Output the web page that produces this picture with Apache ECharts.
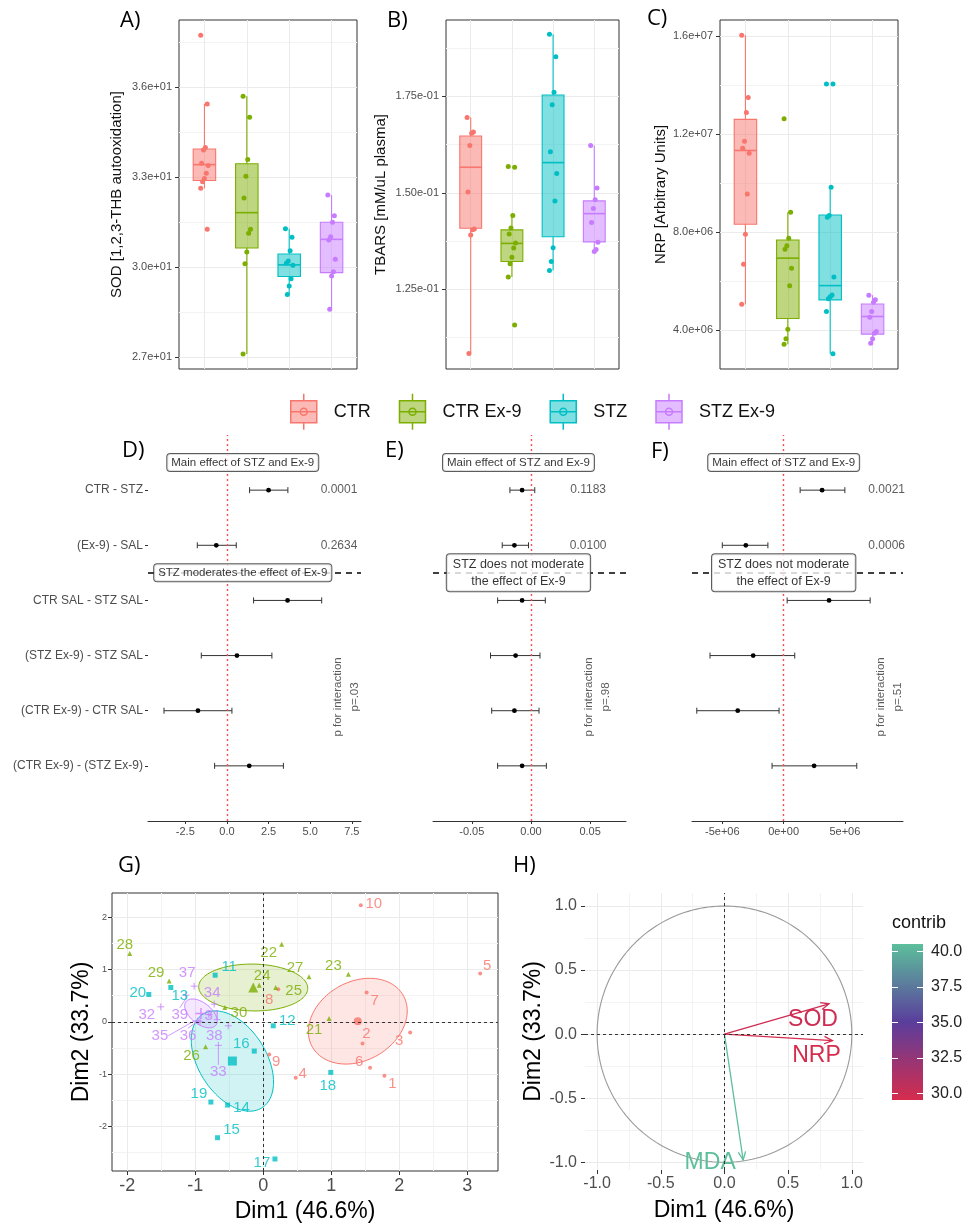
<!DOCTYPE html>
<html><head><meta charset="utf-8">
<script src="https://cdn.jsdelivr.net/npm/echarts@6/dist/echarts.min.js"></script>
<style>html,body{margin:0;padding:0;background:#fff}#c{width:966px;height:1223px}</style>
</head><body><div id="c"></div>
<script>
// ================= DATA =================
const groups = ['CTR', 'CTR Ex-9', 'STZ', 'STZ Ex-9'];

// A) SOD [1,2,3-THB autooxidation]
const sodCTR   = [37.72, 35.43, 33.98, 33.90, 33.46, 33.38, 33.12, 32.95, 32.84, 32.62, 31.26];
const sodCTREx = [35.69, 34.99, 33.58, 33.02, 32.30, 31.26, 31.12, 30.50, 30.11, 27.10];
const sodSTZ   = [31.27, 30.99, 30.54, 30.20, 30.12, 30.06, 29.61, 29.37, 29.08];
const sodSTZEx = [32.40, 31.71, 31.49, 31.01, 30.90, 30.26, 29.84, 29.70, 28.59];
const sodBox   = [[32.62, 32.88, 33.41, 33.93, 35.43], [27.10, 30.63, 31.81, 33.44, 35.69],
                  [29.08, 29.68, 30.07, 30.43, 31.27], [28.59, 29.81, 30.92, 31.49, 32.40]];

// B) TBARS [mM/uL plasma]
const tbCTR   = [0.1695, 0.1657, 0.1654, 0.1622, 0.1502, 0.1406, 0.1404, 0.1391, 0.1084];
const tbCTREx = [0.1568, 0.1566, 0.1441, 0.1409, 0.1393, 0.1370, 0.1357, 0.1333, 0.1316, 0.1282, 0.1158];
const tbSTZ   = [0.1910, 0.1852, 0.1760, 0.1728, 0.1606, 0.1550, 0.1479, 0.1358, 0.1322, 0.1299];
const tbSTZEx = [0.1622, 0.1512, 0.1482, 0.1459, 0.1423, 0.1372, 0.1353, 0.1348];
const tbBox   = [[0.1084, 0.1408, 0.1566, 0.1647, 0.1695], [0.1282, 0.1322, 0.1369, 0.1404, 0.1441],
                 [0.1299, 0.1386, 0.1578, 0.1753, 0.1910], [0.1348, 0.1373, 0.1446, 0.1479, 0.1622]];

// C) NRP [Arbitrary Units]
const nrpCTR   = [16.03e6, 13.49e6, 12.88e6, 11.71e6, 11.42e6, 11.22e6, 9.56e6, 7.91e6, 6.69e6, 5.06e6];
const nrpCTREx = [12.62e6, 8.81e6, 7.75e6, 7.45e6, 7.30e6, 6.53e6, 5.81e6, 4.04e6, 3.65e6, 3.43e6];
const nrpSTZ   = [14.04e6, 14.04e6, 9.83e6, 8.68e6, 8.61e6, 6.17e6, 5.44e6, 5.37e6, 5.28e6, 4.76e6, 3.04e6];
const nrpSTZEx = [5.43e6, 5.24e6, 5.14e6, 4.76e6, 4.53e6, 3.95e6, 3.88e6, 3.65e6, 3.47e6];
const nrpBox   = [[5.06e6, 8.32e6, 11.33e6, 12.60e6, 16.03e6], [3.43e6, 4.48e6, 6.94e6, 7.68e6, 8.81e6],
                  [3.04e6, 5.24e6, 5.82e6, 8.70e6, 9.83e6], [3.47e6, 3.84e6, 4.56e6, 5.07e6, 5.43e6]];

// D/E/F contrasts (top to bottom)
const contrasts = ['CTR - STZ', '(Ex-9) - SAL', 'CTR SAL - STZ SAL', '(STZ Ex-9) - STZ SAL',
                   '(CTR Ex-9) - CTR SAL', '(CTR Ex-9) - (STZ Ex-9)'];
const dEst = [2.50, -0.64, 3.64, 0.60, -1.74, 1.34];
const dLo  = [1.36, -1.78, 1.60, -1.54, -3.78, -0.74];
const dHi  = [3.66, 0.56, 5.69, 2.70, 0.30, 3.39];
const eEst = [-0.0075, -0.0140, -0.0075, -0.0130, -0.0140, -0.0075];
const eLo  = [-0.0178, -0.0243, -0.0282, -0.0342, -0.0332, -0.0282];
const eHi  = [0.0032, -0.0021, 0.0121, 0.0076, 0.0068, 0.0130];
const fEst = [3.14e6, -3.08e6, 3.71e6, -2.48e6, -3.74e6, 2.49e6];
const fLo  = [1.35e6, -5.00e6, 0.29e6, -6.00e6, -7.08e6, -0.94e6];
const fHi  = [5.00e6, -1.28e6, 7.06e6, 0.91e6, -0.37e6, 5.97e6];
const mainP = [['0.0001', '0.2634'], ['0.1183', '0.0100'], ['0.0021', '0.0006']];
const interactionP = ['.03', '.98', '.51'];
const moderationText = ['STZ moderates the effect of Ex-9', 'STZ does not moderate\nthe effect of Ex-9', 'STZ does not moderate\nthe effect of Ex-9'];

// G) PCA individuals
const ctrIds = [1, 2, 3, 4, 5, 6, 7, 8, 9, 10];
const ctrX   = [1.782, 1.460, 2.160, 0.477, 3.190, 1.571, 1.520, 0.221, 0.088, 1.434];
const ctrY   = [-1.030, -0.413, -0.203, -1.070, 0.925, -0.879, 0.561, 0.625, -0.624, 2.231];
const stzIds = [11, 12, 13, 14, 15, 16, 17, 18, 19, 20];
const stzX   = [-0.707, 0.147, -1.359, -0.524, -0.672, -0.132, 0.172, 0.993, -0.770, -1.683];
const stzY   = [0.893, -0.076, 0.658, -1.593, -2.218, -0.560, -2.625, -0.968, -1.535, 0.524];
const ctrExIds = [21, 22, 23, 24, 25, 26, 27, 28, 29, 30];
const ctrExX   = [0.968, 0.271, 1.252, -0.060, 0.183, -0.848, 0.673, -1.963, -1.384, -0.564];
const ctrExY   = [0.065, 1.486, 0.912, 0.700, 0.658, -0.478, 0.861, 1.308, 0.784, 0.275];
const stzExIds = [31, 32, 33, 34, 35, 36, 37, 38, 39];
const stzExX   = [-0.800, -1.506, -0.660, -0.721, -0.960, -0.930, -1.016, -0.515, -1.138];
const stzExY   = [0.140, 0.287, -0.450, 0.338, 0.020, 0.000, 0.683, -0.076, 0.510];

// H) PCA variables
const hVars    = ['SOD', 'NRP', 'MDA'];
const hX       = [0.821, 0.848, 0.147];
const hY       = [0.237, -0.050, -0.982];
const hContrib = [29.93, 29.53, 40.54];
const contribTicks = [30, 32.5, 35, 37.5, 40];

// ================= STYLE / HELPERS =================
const COLORS = ['#F8766D', '#7CAE00', '#00BFC4', '#C77CFF'];
const FONT = '"Liberation Sans", Arial, sans-serif';
const TICK = '#4d4d4d';
const BOXW = 0.53;
function rgba(hex, a) { const n = parseInt(hex.slice(1), 16); return 'rgba(' + (n >> 16) + ',' + ((n >> 8) & 255) + ',' + (n & 255) + ',' + a + ')'; }
function sci(v, d) { return v.toExponential(d).replace(/e([+-])(\d)$/, (m, s, k) => 'e' + s + '0' + k); }
function jit(i) { return (((i * 7) % 9) - 4) * 0.022; }
function mean(a) { return a.reduce((s, v) => s + v, 0) / a.length; }

const grids = [
  { left: 179, top: 20, width: 178, height: 349, show: true, borderColor: '#333', borderWidth: 1 }, // A
  { left: 446, top: 20, width: 173, height: 349, show: true, borderColor: '#333', borderWidth: 1 }, // B
  { left: 720, top: 20, width: 178, height: 349, show: true, borderColor: '#333', borderWidth: 1 }, // C
  { left: 148, top: 435, width: 213, height: 386 }, // D
  { left: 433, top: 435, width: 193, height: 386 }, // E
  { left: 692, top: 435, width: 211, height: 386 }, // F
  { left: 112, top: 893, width: 386, height: 278, show: true, borderColor: '#333', borderWidth: 1 }, // G
  { left: 585, top: 893, width: 278, height: 277 }, // H
  { left: 892, top: 944, width: 31, height: 156 }  // colorbar
].map(g => Object.assign({ outerBoundsMode: 'none', containLabel: false }, g));

const xAxes = [], yAxes = [], series = [];
function addX(o) { o.axisLine = Object.assign({ onZero: false }, o.axisLine || {}); xAxes.push(o); return xAxes.length - 1; }
function addY(o) { o.axisLine = Object.assign({ onZero: false }, o.axisLine || {}); yAxes.push(o); return yAxes.length - 1; }
function minorAxis(gi, min, max, minors, pos) {
  return { type: 'value', gridIndex: gi, min, max, position: pos,
    axisLine: { show: false }, axisTick: { show: false, customValues: minors },
    axisLabel: { show: false, customValues: minors },
    splitLine: { show: true, lineStyle: { color: '#f3f3f3', width: 1 } } };
}

// ================= A-C box plots =================
const boxPanels = [
  { pts: [sodCTR, sodCTREx, sodSTZ, sodSTZEx], box: sodBox, min: 26.6, max: 38.23,
    majors: [27, 30, 33, 36], minors: [28.5, 31.5, 34.5, 37.5], fmt: v => sci(v, 1),
    name: 'SOD [1,2,3-THB autooxidation]', gap: 55 },
  { pts: [tbCTR, tbCTREx, tbSTZ, tbSTZEx], box: tbBox, min: 0.1044, max: 0.1947,
    majors: [0.125, 0.15, 0.175], minors: [0.1125, 0.1375, 0.1625, 0.1875], fmt: v => sci(v, 2),
    name: 'TBARS [mM/uL plasma]', gap: 58 },
  { pts: [nrpCTR, nrpCTREx, nrpSTZ, nrpSTZEx], box: nrpBox, min: 2.42e6, max: 16.65e6,
    majors: [4e6, 8e6, 12e6, 16e6], minors: [6e6, 10e6, 14e6], fmt: v => sci(v, 1),
    name: 'NRP [Arbitrary Units]', gap: 52 }
];
function boxRenderer(color) {
  return function (params, api) {
    const x = api.value(0), lo = api.value(1), q1 = api.value(2), md = api.value(3), q3 = api.value(4), hi = api.value(5);
    const tl = api.coord([x - BOXW / 2, q3]), br = api.coord([x + BOXW / 2, q1]);
    const pm = api.coord([x, md]), pLo = api.coord([x, lo]), pHi = api.coord([x, hi]);
    const ln = { stroke: color, lineWidth: 1.1 };
    return { type: 'group', children: [
      { type: 'line', shape: { x1: pHi[0], y1: pHi[1], x2: pHi[0], y2: tl[1] }, style: ln },
      { type: 'line', shape: { x1: pLo[0], y1: pLo[1], x2: pLo[0], y2: br[1] }, style: ln },
      { type: 'rect', shape: { x: tl[0], y: tl[1], width: br[0] - tl[0], height: br[1] - tl[1] },
        style: { fill: rgba(color, 0.5), stroke: color, lineWidth: 1.1 } },
      { type: 'line', shape: { x1: tl[0], y1: pm[1], x2: br[0], y2: pm[1] }, style: { stroke: color, lineWidth: 1.6 } }
    ] };
  };
}
boxPanels.forEach((p, gi) => {
  const xi = addX({ type: 'value', gridIndex: gi, min: 0.4, max: 4.6,
    axisLine: { show: false }, axisTick: { show: false, customValues: [1, 2, 3, 4] },
    axisLabel: { show: false, customValues: [1, 2, 3, 4] },
    splitLine: { show: true, lineStyle: { color: '#ebebeb', width: 1 } } });
  const yi = addY({ type: 'value', gridIndex: gi, min: p.min, max: p.max, position: 'left',
    axisLine: { show: false },
    axisTick: { show: true, length: 4, lineStyle: { color: '#333' }, customValues: p.majors },
    axisLabel: { customValues: p.majors, formatter: p.fmt, color: TICK, fontSize: 11, fontFamily: FONT, margin: 7 },
    splitLine: { show: true, lineStyle: { color: '#ebebeb', width: 1 } },
    name: p.name, nameLocation: 'middle', nameGap: p.gap,
    nameTextStyle: { fontSize: 15, fontFamily: FONT, color: '#111' } });
  addY(minorAxis(gi, p.min, p.max, p.minors, 'right'));
  groups.forEach((g, k) => {
    series.push({ type: 'custom', name: g, xAxisIndex: xi, yAxisIndex: yi, z: 2,
      itemStyle: { color: rgba(COLORS[k], 0.5), borderColor: COLORS[k] },
      encode: { x: 0, y: [1, 2, 3, 4, 5] },
      data: [[k + 1].concat(p.box[k])], renderItem: boxRenderer(COLORS[k]) });
    series.push({ type: 'scatter', name: g, xAxisIndex: xi, yAxisIndex: yi, z: 3,
      symbolSize: 5, itemStyle: { color: COLORS[k], opacity: 1 },
      data: p.pts[k].map((v, i) => [k + 1 + jit(i), v]) });
  });
});

// ================= D-F effect plots =================
const effPanels = [
  { est: dEst, lo: dLo, hi: dHi, min: -4.74, max: 8.05, majors: [-2.5, 0, 2.5, 5, 7.5], fmt: v => v.toFixed(1), pX: 6.73, rX: 7.15, showY: true },
  { est: eEst, lo: eLo, hi: eHi, min: -0.0828, max: 0.0803, majors: [-0.05, 0, 0.05], fmt: v => v.toFixed(2), pX: 0.0483, rX: 0.0559, showY: false },
  { est: fEst, lo: fLo, hi: fHi, min: -7.47e6, max: 9.74e6, majors: [-5e6, 0, 5e6], fmt: v => sci(v, 0), pX: 8.41e6, rX: 8.62e6, showY: false }
];
function errRenderer(params, api) {
  const y = api.value(0), est = api.value(1), lo = api.value(2), hi = api.value(3);
  const pE = api.coord([est, y]), pL = api.coord([lo, y]), pH = api.coord([hi, y]);
  const st = { stroke: '#333', lineWidth: 1 }, cap = 3;
  return { type: 'group', children: [
    { type: 'line', shape: { x1: pL[0], y1: pL[1], x2: pH[0], y2: pH[1] }, style: st },
    { type: 'line', shape: { x1: pL[0], y1: pL[1] - cap, x2: pL[0], y2: pL[1] + cap }, style: st },
    { type: 'line', shape: { x1: pH[0], y1: pH[1] - cap, x2: pH[0], y2: pH[1] + cap }, style: st },
    { type: 'circle', shape: { cx: pE[0], cy: pE[1], r: 2.4 }, style: { fill: '#000' } }
  ] };
}
const boxLabel = { show: true, position: 'inside', color: '#000', fontFamily: FONT, fontSize: 11.5,
  backgroundColor: '#fff', borderColor: '#333', borderWidth: 1, borderRadius: 3, padding: [3, 4, 2, 4] };
effPanels.forEach((p, j) => {
  const gi = 3 + j;
  const xi = addX({ type: 'value', gridIndex: gi, min: p.min, max: p.max,
    axisLine: { show: true, lineStyle: { color: '#333', width: 1 } },
    axisTick: { show: true, length: 3, lineStyle: { color: '#333' }, customValues: p.majors },
    axisLabel: { customValues: p.majors, formatter: p.fmt, color: TICK, fontSize: 11, fontFamily: FONT, margin: 5 },
    splitLine: { show: false } });
  const rowPos = [1, 2, 3, 4, 5, 6];
  const yi = addY({ type: 'value', gridIndex: gi, min: 0, max: 7, show: p.showY, position: 'left',
    axisLine: { show: false },
    axisTick: { show: true, length: 3, lineStyle: { color: '#333' }, customValues: rowPos },
    axisLabel: { customValues: rowPos, formatter: v => contrasts[6 - Math.round(v)], color: TICK, fontSize: 12, fontFamily: FONT, margin: 5 },
    splitLine: { show: false } });
  series.push({ type: 'scatter', xAxisIndex: xi, yAxisIndex: yi, z: 1, symbolSize: 0, silent: true,
    data: [[0, 0]], itemStyle: { color: 'rgba(0,0,0,0)' },
    markLine: { silent: true, symbol: ['none', 'none'], label: { show: false }, animation: false,
      data: [ { xAxis: 0, lineStyle: { color: '#ff4d4d', type: [2, 3], width: 1.4 } },
              { yAxis: 4.5, lineStyle: { color: '#000', type: [6, 5], width: 1.5 } } ] } });
  series.push({ type: 'custom', xAxisIndex: xi, yAxisIndex: yi, z: 3, encode: { x: [1, 2, 3], y: 0 },
    data: p.est.map((e, i) => [6 - i, e, p.lo[i], p.hi[i]]), renderItem: errRenderer });
  const mx = mean(p.est);
  series.push({ type: 'scatter', xAxisIndex: xi, yAxisIndex: yi, z: 5, symbolSize: 0, silent: true,
    itemStyle: { color: 'rgba(0,0,0,0)' },
    data: [
      { value: [mx, 6.5], label: Object.assign({}, boxLabel, { formatter: 'Main effect of STZ and Ex-9' }) },
      { value: [mx, 4.5], label: Object.assign({}, boxLabel, j === 0 ? { formatter: moderationText[j] } :
          { formatter: moderationText[j], fontSize: 12.5, lineHeight: 17, padding: [2, 6, 1, 6] }) },
      { value: [p.pX, 6], label: { show: true, position: 'inside', formatter: mainP[j][0], fontSize: 12, color: '#333', fontFamily: FONT } },
      { value: [p.pX, 5], label: { show: true, position: 'inside', formatter: mainP[j][1], fontSize: 12, color: '#333', fontFamily: FONT } },
      { value: [p.rX, 2.25], label: { show: true, position: 'inside', rotate: 90, formatter: 'p for interaction\np=' + interactionP[j],
          fontSize: 11.5, lineHeight: 17, color: '#333', fontFamily: FONT, align: 'center' } }
    ] });
});

// ================= G) PCA individuals =================
const gGroups = [
  { ids: ctrIds, x: ctrX, y: ctrY, color: COLORS[0], symbol: 'circle', size: 4, csize: 8 },
  { ids: ctrExIds, x: ctrExX, y: ctrExY, color: COLORS[1], symbol: 'triangle', size: 5, csize: 10 },
  { ids: stzIds, x: stzX, y: stzY, color: COLORS[2], symbol: 'rect', size: 5, csize: 9 },
  { ids: stzExIds, x: stzExX, y: stzExY, color: COLORS[3], symbol: 'path://M5,0L5,10M0,5L10,5', size: 7, csize: 11, plus: true }
];
const gLabelOff = {
  1: [8, 8], 2: [4, -10], 3: [-11, 8], 4: [7, -4], 5: [7, -8], 6: [-11, -6], 7: [8, 8], 8: [-9, 11], 9: [7, 7], 10: [13, -1],
  11: [14, -8], 12: [14, -5], 13: [9, 8], 14: [14, 3], 15: [14, -8], 16: [-13, -7], 17: [-13, 4], 18: [-3, 13], 19: [-12, -8], 20: [-11, -2],
  21: [-15, 11], 22: [-13, 9], 23: [-15, -8], 24: [3, -9], 25: [18, 3], 26: [-14, 9], 27: [-14, -9], 28: [-5, -9], 29: [-13, -8], 30: [14, 5],
  31: [4, 1], 32: [-14, 8], 33: [0, 27], 34: [-2, -11], 35: [-38, 15], 36: [-12, 14], 37: [-7, -13], 38: [-14, 10], 39: [-6, 20]
};
const gGuide = { 33: true, 35: true, 36: true, 39: true };
const gxi = addX({ type: 'value', gridIndex: 6, min: -2.224, max: 3.452, position: 'bottom', axisLine: { show: false },
  axisTick: { show: true, length: 4, lineStyle: { color: '#333' }, customValues: [-2, -1, 0, 1, 2, 3] },
  axisLabel: { customValues: [-2, -1, 0, 1, 2, 3], color: TICK, fontSize: 18, fontFamily: FONT, margin: 6 },
  splitLine: { show: true, lineStyle: { color: '#ebebeb' } },
  name: 'Dim1 (46.6%)', nameLocation: 'middle', nameGap: 29, nameTextStyle: { fontSize: 23, fontFamily: FONT, color: '#000' } });
addX(minorAxis(6, -2.224, 3.452, [-1.5, -0.5, 0.5, 1.5, 2.5], 'top'));
const gyi = addY({ type: 'value', gridIndex: 6, min: -2.855, max: 2.466, position: 'left', axisLine: { show: false },
  axisTick: { show: true, length: 4, lineStyle: { color: '#333' }, customValues: [-2, -1, 0, 1, 2] },
  axisLabel: { customValues: [-2, -1, 0, 1, 2], color: TICK, fontSize: 9, fontFamily: FONT, margin: 5 },
  splitLine: { show: true, lineStyle: { color: '#ebebeb' } },
  name: 'Dim2 (33.7%)', nameLocation: 'middle', nameGap: 19, nameTextStyle: { fontSize: 23, fontFamily: FONT, color: '#000' } });
addY(minorAxis(6, -2.855, 2.466, [-2.5, -1.5, -0.5, 0.5, 1.5], 'right'));

function confEllipse(xs, ys) {
  const n = xs.length, mx = mean(xs), my = mean(ys);
  let sxx = 0, syy = 0, sxy = 0;
  for (let i = 0; i < n; i++) { const dx = xs[i] - mx, dy = ys[i] - my; sxx += dx * dx; syy += dy * dy; sxy += dx * dy; }
  sxx /= (n - 1) * n; syy /= (n - 1) * n; sxy /= (n - 1) * n;
  const a = Math.sqrt(sxx), b = sxy / a, c = Math.sqrt(Math.max(syy - b * b, 0));
  const r = Math.sqrt(5.991464547);
  const pts = [];
  for (let k = 0; k <= 120; k++) { const t = k / 120 * 2 * Math.PI; pts.push([mx + r * a * Math.cos(t), my + r * (b * Math.cos(t) + c * Math.sin(t))]); }
  return pts;
}
gGroups.forEach(gg => {
  const ell = confEllipse(gg.x, gg.y);
  series.push({ type: 'custom', xAxisIndex: gxi, yAxisIndex: gyi, z: 1, silent: true,
    data: [[mean(gg.x), mean(gg.y)]],
    renderItem: (params, api) => ({ type: 'polygon', shape: { points: ell.map(p => api.coord(p)) },
      style: { fill: rgba(gg.color, 0.18), stroke: gg.color, lineWidth: 1 } }) });
});
gGroups.forEach(gg => {
  const itemStyle = gg.plus ? { color: 'rgba(0,0,0,0)', borderColor: gg.color, borderWidth: 1 } : { color: gg.color };
  series.push({ type: 'scatter', xAxisIndex: gxi, yAxisIndex: gyi, z: 3, symbol: gg.symbol, symbolSize: gg.size,
    itemStyle: itemStyle,
    label: { show: true, position: 'inside', color: gg.color, fontSize: 15, fontFamily: FONT,
      formatter: p => String(gg.ids[p.dataIndex]) },
    labelLayout: p => { const o = gLabelOff[gg.ids[p.dataIndex]] || [8, 0]; return { dx: o[0], dy: o[1] }; },
    labelLine: { show: false },
    data: gg.x.map((x, i) => {
      const it = { value: [x, gg.y[i]] };
      if (gGuide[gg.ids[i]]) it.labelLine = { show: true, lineStyle: { color: gg.color, width: 0.8 } };
      return it;
    }) });
  series.push({ type: 'scatter', xAxisIndex: gxi, yAxisIndex: gyi, z: 4, symbol: gg.symbol, symbolSize: gg.csize,
    itemStyle: gg.plus ? { color: 'rgba(0,0,0,0)', borderColor: gg.color, borderWidth: 1.5 } : { color: gg.color },
    data: [[mean(gg.x), mean(gg.y)]] });
});
series.push({ type: 'scatter', xAxisIndex: gxi, yAxisIndex: gyi, z: 2, symbolSize: 0, silent: true, data: [[0, 0]],
  itemStyle: { color: 'rgba(0,0,0,0)' },
  markLine: { silent: true, symbol: ['none', 'none'], label: { show: false }, animation: false,
    lineStyle: { color: '#333', type: [3, 3], width: 1 }, data: [{ xAxis: 0 }, { yAxis: 0 }] } });

// ================= H) PCA variables =================
const cMin = Math.min.apply(null, hContrib), cMax = Math.max.apply(null, hContrib);
const C_LOW = [214, 44, 76], C_MID = [90, 62, 156], C_HIGH = [92, 191, 156];
function contribColor(v) {
  const t = (v - cMin) / (cMax - cMin);
  const [a, b, u] = t < 0.5 ? [C_LOW, C_MID, t / 0.5] : [C_MID, C_HIGH, (t - 0.5) / 0.5];
  return 'rgb(' + a.map((c, i) => Math.round(c + (b[i] - c) * u)).join(',') + ')';
}
const hTicks = [-1, -0.5, 0, 0.5, 1];
const hxi = addX({ type: 'value', gridIndex: 7, min: -1.095, max: 1.088, position: 'bottom', axisLine: { show: false },
  axisTick: { show: true, length: 4, lineStyle: { color: '#333' }, customValues: hTicks },
  axisLabel: { customValues: hTicks, formatter: v => v.toFixed(1), color: TICK, fontSize: 16, fontFamily: FONT, margin: 6 },
  splitLine: { show: true, lineStyle: { color: '#ebebeb' } },
  name: 'Dim1 (46.6%)', nameLocation: 'middle', nameGap: 29, nameTextStyle: { fontSize: 23, fontFamily: FONT, color: '#000' } });
addX(minorAxis(7, -1.095, 1.088, [-0.75, -0.25, 0.25, 0.75], 'top'));
const hyi = addY({ type: 'value', gridIndex: 7, min: -1.06, max: 1.1016, position: 'left', axisLine: { show: false },
  axisTick: { show: true, length: 4, lineStyle: { color: '#333' }, customValues: hTicks },
  axisLabel: { customValues: hTicks, formatter: v => v.toFixed(1), color: TICK, fontSize: 16, fontFamily: FONT, margin: 8 },
  splitLine: { show: true, lineStyle: { color: '#ebebeb' } },
  name: 'Dim2 (33.7%)', nameLocation: 'middle', nameGap: 39, nameTextStyle: { fontSize: 23, fontFamily: FONT, color: '#000' } });
addY(minorAxis(7, -1.06, 1.1016, [-0.75, -0.25, 0.25, 0.75], 'right'));
series.push({ type: 'custom', xAxisIndex: hxi, yAxisIndex: hyi, z: 1, silent: true, data: [[0, 0]],
  renderItem: (params, api) => {
    const pts = [];
    for (let k = 0; k <= 200; k++) { const t = k / 200 * 2 * Math.PI; pts.push(api.coord([Math.cos(t), Math.sin(t)])); }
    return { type: 'polyline', shape: { points: pts }, style: { stroke: '#9a9a9a', lineWidth: 1.1, fill: null } };
  } });
series.push({ type: 'scatter', xAxisIndex: hxi, yAxisIndex: hyi, z: 2, symbolSize: 0, silent: true, data: [[0, 0]],
  itemStyle: { color: 'rgba(0,0,0,0)' },
  markLine: { silent: true, symbol: ['none', 'none'], label: { show: false }, animation: false,
    lineStyle: { color: '#333', type: [3, 3], width: 1 }, data: [{ xAxis: 0 }, { yAxis: 0 }] } });
const hLabelOff = [[-16, 16], [-16, 15], [-33, 3]];
series.push({ type: 'custom', xAxisIndex: hxi, yAxisIndex: hyi, z: 4, encode: { x: 0, y: 1 },
  data: hX.map((x, i) => [x, hY[i], hContrib[i]]),
  renderItem: (params, api) => {
    const i = params.dataIndex;
    const p0 = api.coord([0, 0]), p1 = api.coord([api.value(0), api.value(1)]);
    const col = contribColor(api.value(2));
    const ang = Math.atan2(p1[1] - p0[1], p1[0] - p0[0]), L = 9, A = 0.42;
    const h1 = [p1[0] - L * Math.cos(ang - A), p1[1] - L * Math.sin(ang - A)];
    const h2 = [p1[0] - L * Math.cos(ang + A), p1[1] - L * Math.sin(ang + A)];
    const off = hLabelOff[i];
    return { type: 'group', children: [
      { type: 'line', shape: { x1: p0[0], y1: p0[1], x2: p1[0], y2: p1[1] }, style: { stroke: col, lineWidth: 1.3 } },
      { type: 'polyline', shape: { points: [h1, p1, h2] }, style: { stroke: col, lineWidth: 1.3, fill: null } },
      { type: 'text', x: p1[0] + off[0], y: p1[1] + off[1],
        style: { text: hVars[i], fill: col, fontSize: 23, fontFamily: FONT, align: 'center', verticalAlign: 'middle' } }
    ] };
  } });

// colour bar
const cbx = addX({ type: 'value', gridIndex: 8, min: 0, max: 1, show: false });
const cby = addY({ type: 'value', gridIndex: 8, min: cMin, max: cMax, position: 'right', z: 10,
  axisLine: { show: false },
  axisTick: { show: true, inside: true, length: 6, lineStyle: { color: '#fff', width: 1 }, customValues: contribTicks },
  axisLabel: { customValues: contribTicks, formatter: v => v.toFixed(1), color: '#222', fontSize: 16, fontFamily: FONT, margin: 8 },
  splitLine: { show: false } });
addY({ type: 'value', gridIndex: 8, min: cMin, max: cMax, position: 'left', z: 10,
  axisLine: { show: false }, axisLabel: { show: false, customValues: contribTicks },
  axisTick: { show: true, inside: true, length: 6, lineStyle: { color: '#fff', width: 1 }, customValues: contribTicks },
  splitLine: { show: false } });
series.push({ type: 'custom', xAxisIndex: cbx, yAxisIndex: cby, z: 2, silent: true, data: [[0, cMin, 1, cMax]],
  renderItem: (params, api) => {
    const tl = api.coord([0, cMax]), br = api.coord([1, cMin]);
    const mid = (cMax - (cMin + cMax) / 2) / (cMax - cMin);
    return { type: 'rect', shape: { x: tl[0], y: tl[1], width: br[0] - tl[0], height: br[1] - tl[1] },
      style: { fill: { type: 'linear', x: 0, y: 0, x2: 0, y2: 1, colorStops: [
        { offset: 0, color: contribColor(cMax) }, { offset: mid, color: contribColor((cMin + cMax) / 2) }, { offset: 1, color: contribColor(cMin) }] } } };
  } });

// ================= legend & labels =================
const BOX_ICON = 'path://M15,0L15,7M2,7L28,7L28,29L2,29ZM2,18L28,18M15,29L15,36M18.5,18A3.5,3.5,0,1,1,11.5,18A3.5,3.5,0,1,1,18.5,18Z';
const letters = [['A)', 120, 10], ['B)', 387, 10], ['C)', 647, 8], ['D)', 122, 440], ['E)', 385, 440],
                 ['F)', 651, 441], ['G)', 118, 855], ['H)', 513, 855]];
const option = {
  animation: false,
  backgroundColor: '#fff',
  grid: grids, xAxis: xAxes, yAxis: yAxes, series: series,
  legend: { left: 285, top: 388, itemWidth: 30, itemHeight: 36, itemGap: 28, selectedMode: false,
    textStyle: { fontSize: 18, fontFamily: FONT, color: '#111', padding: [0, 0, 0, 10] },
    data: groups.map((g, i) => ({ name: g, icon: BOX_ICON,
      itemStyle: { color: rgba(COLORS[i], 0.5), borderColor: COLORS[i], borderWidth: 1.5 } })) },
  graphic: letters.map(l => ({ type: 'text', left: l[1], top: l[2],
    style: { text: l[0], fontSize: 22, fontFamily: '"Open Sans", "Noto Sans", sans-serif', fill: '#000' } }))
    .concat([{ type: 'text', left: 892, top: 914, style: { text: 'contrib', fontSize: 18, fontFamily: FONT, fill: '#111' } }])
};
const chart = echarts.init(document.getElementById('c'), null, { renderer: 'canvas', width: 966, height: 1223 });
chart.setOption(option);
</script></body></html>
